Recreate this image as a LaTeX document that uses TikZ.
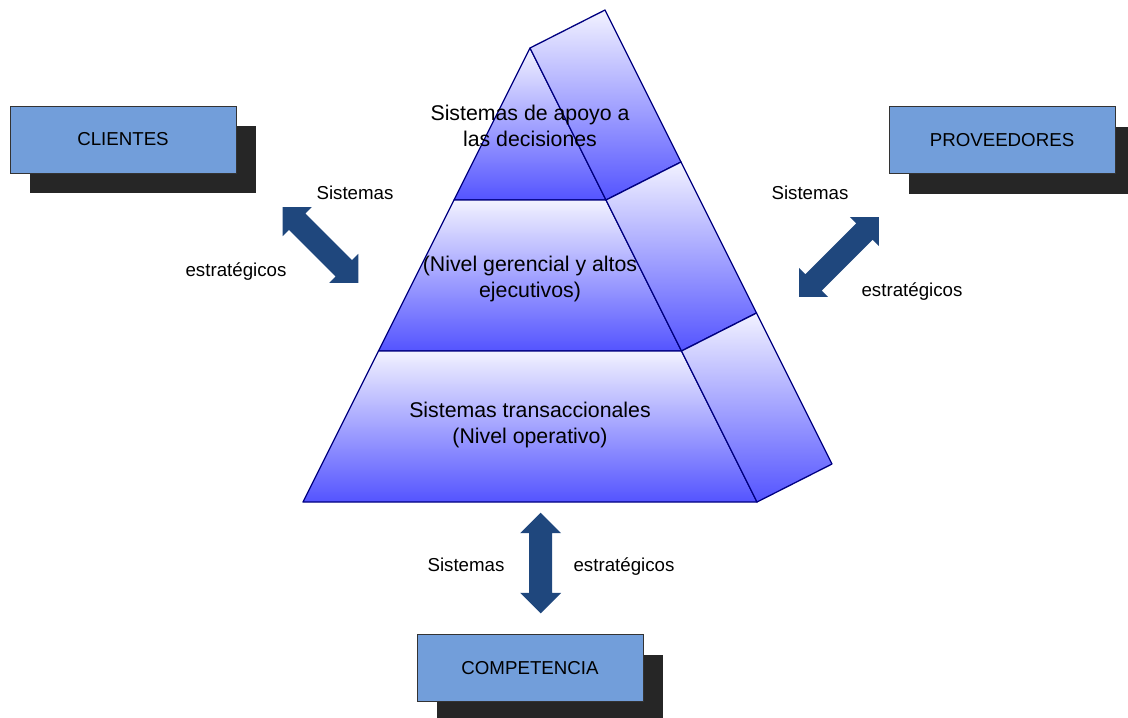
\documentclass[tikz,border=0pt]{standalone}
\usepackage{fontspec}
\setmainfont{Liberation Sans}
\usetikzlibrary{shadows}

\definecolor{boxblue}{RGB}{114,158,218}
\definecolor{shadowgray}{RGB}{38,38,38}
\definecolor{arrowblue}{RGB}{31,71,125}
\definecolor{pyrtop}{RGB}{242,242,255}
\definecolor{pyrbot}{RGB}{84,84,255}
\definecolor{pyredge}{RGB}{0,0,128}

\tikzset{
  band/.style={draw=pyredge, line width=1.3pt, line join=round,
               top color=pyrtop, bottom color=pyrbot},
  levellabel/.style={align=center, inner sep=0pt,
               font=\fontsize{21.3}{26.5}\selectfont},
  sidelabel/.style={inner sep=0pt, anchor=base,
               font=\fontsize{18.7}{22}\selectfont},
  actor/.style={draw=black!80, line width=0.9pt, fill=boxblue,
               minimum width=226pt, minimum height=67pt, inner sep=0pt,
               font=\fontsize{18.7}{22}\selectfont,
               drop shadow={shadow xshift=20pt, shadow yshift=-20pt,
                            fill=shadowgray, opacity=1}},
  % double-headed block arrow, #1 = half length, right-angled tips
  pics/dblarrow/.style={code={
    \fill[arrowblue] (-#1,0) -- (-#1+20.5,-20.5) -- (-#1+20.5,-11.5)
      -- (#1-20.5,-11.5) -- (#1-20.5,-20.5) -- (#1,0) -- (#1-20.5,20.5)
      -- (#1-20.5,11.5) -- (-#1+20.5,11.5) -- (-#1+20.5,20.5) -- cycle;
  }}
}

\begin{document}
\begin{tikzpicture}[x=1pt, y=-1pt]
\useasboundingbox (0,0) rectangle (1128,718);

% pyramid: front face
\path[band] (530,48) -- (606,200) -- (454,200) -- cycle;
\path[band] (454,200) -- (606,200) -- (681.5,351) -- (378.5,351) -- cycle;
\path[band] (378.5,351) -- (681.5,351) -- (757,502) -- (303,502) -- cycle;
% pyramid: side face
\path[band] (530,48) -- (605,10) -- (681,162) -- (606,200) -- cycle;
\path[band] (606,200) -- (681,162) -- (756.5,313) -- (681.5,351) -- cycle;
\path[band] (681.5,351) -- (756.5,313) -- (832,464) -- (757,502) -- cycle;

% level labels
\node[levellabel] (top) at (530,126) {Sistemas de apoyo a\\las decisiones};
\node[levellabel] (mid) at (530,279) {(Nivel gerencial y altos\\ejecutivos)};
\node[levellabel] (low) at (530,425) {Sistemas transaccionales\\(Nivel operativo)};

% surrounding actors
\node[actor] (clientes) at (123,139.5) {CLIENTES};
\node[actor] (proveedores) at (1002,140) {PROVEEDORES};
\node[actor] (competencia) at (530,668) {COMPETENCIA};

% block arrows
\pic[rotate=-45] at (320.5,245) {dblarrow=53.4};
\pic[rotate=45] at (839,257) {dblarrow=56.5};
\pic[rotate=90] at (540.7,563) {dblarrow=50.3};

% arrow labels (placed on their baselines)
\node[sidelabel] (s1) at (355,199.7) {Sistemas};
\node[sidelabel] (e1) at (236,276.5) {estratégicos};
\node[sidelabel] (s2) at (810,199.7) {Sistemas};
\node[sidelabel] (e2) at (912,296.5) {estratégicos};
\node[sidelabel] (s3) at (466,571.7) {Sistemas};
\node[sidelabel] (e3) at (624,571.7) {estratégicos};
\end{tikzpicture}
\end{document}
